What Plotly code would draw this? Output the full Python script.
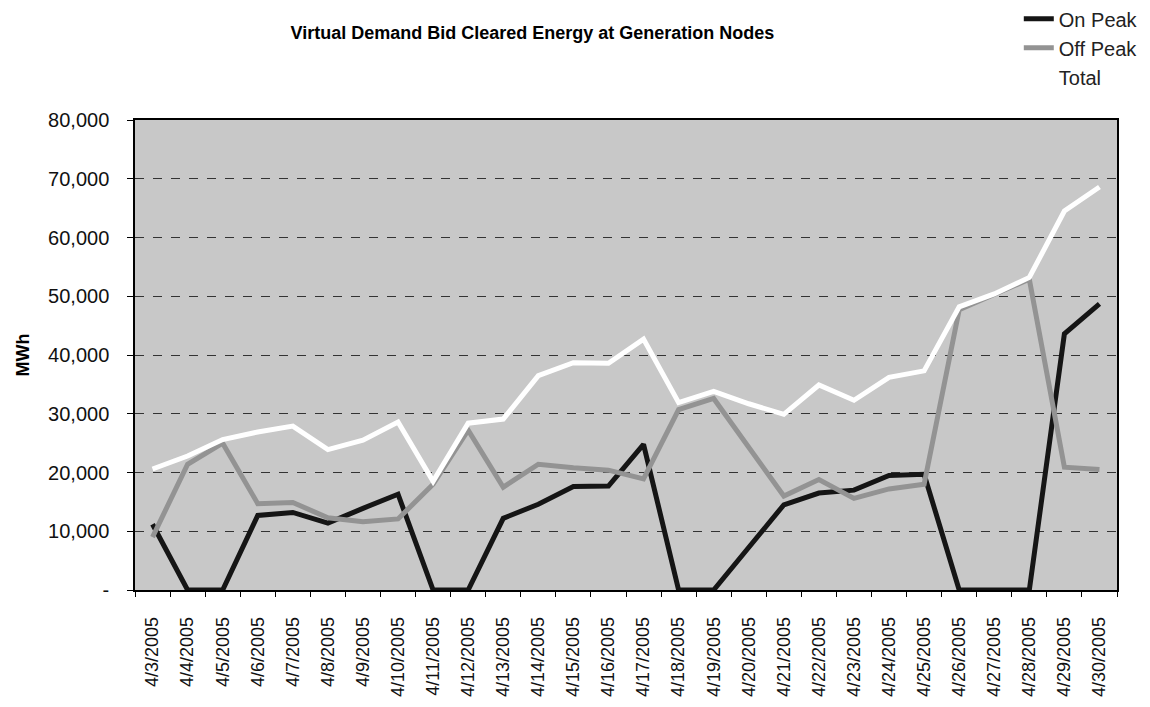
import plotly.graph_objects as go

dates = ["4/3/2005", "4/4/2005", "4/5/2005", "4/6/2005", "4/7/2005", "4/8/2005", "4/9/2005",
         "4/10/2005", "4/11/2005", "4/12/2005", "4/13/2005", "4/14/2005", "4/15/2005", "4/16/2005",
         "4/17/2005", "4/18/2005", "4/19/2005", "4/20/2005", "4/21/2005", "4/22/2005", "4/23/2005",
         "4/24/2005", "4/25/2005", "4/26/2005", "4/27/2005", "4/28/2005", "4/29/2005", "4/30/2005"]

on_peak = [11200, 0, 0, 12700, 13200, 11400, 13900, 16300, 0, 0, 12200, 14600, 17600, 17700,
           24800, 0, 0, 7200, 14500, 16500, 17000, 19500, 19700, 0, 0, 0, 43600, 48700]

off_peak = [9000, 21400, 25000, 14700, 14900, 12300, 11600, 12100, 18000, 27200, 17500, 21400,
            20800, 20400, 18900, 30700, 32600, 24300, 16000, 18800, 15600, 17200, 18000, 47700,
            50200, 52900, 20900, 20500]

total = [20600, 22800, 25600, 26900, 27900, 23900, 25500, 28600, 18500, 28400, 29100, 36500,
         38700, 38600, 42700, 31900, 33800, 31700, 29900, 34900, 32300, 36200, 37300, 48200,
         50400, 53200, 64500, 68600]

y_tickvals = [0, 10000, 20000, 30000, 40000, 50000, 60000, 70000, 80000]
y_ticktext = ["-", "10,000", "20,000", "30,000", "40,000", "50,000", "60,000", "70,000", "80,000"]

fig = go.Figure()
fig.add_trace(go.Scatter(x=dates, y=on_peak, mode="lines", name="On Peak",
                         line=dict(color="#151515", width=5)))
fig.add_trace(go.Scatter(x=dates, y=off_peak, mode="lines", name="Off Peak",
                         line=dict(color="#939393", width=5)))
fig.add_trace(go.Scatter(x=dates, y=total, mode="lines", name="Total",
                         line=dict(color="#ffffff", width=5)))

fig.update_layout(
    width=1150, height=707,
    paper_bgcolor="white",
    plot_bgcolor="#c8c8c8",
    margin=dict(l=127, r=41, t=112, b=125, autoexpand=False),
    font=dict(family="Liberation Sans, Arial, sans-serif", color="black"),
    title=dict(text="<b>Virtual Demand Bid Cleared Energy at Generation Nodes</b>",
               x=0.456, xanchor="center", y=0.965, yanchor="middle",
               font=dict(size=18, color="black")),
    legend=dict(x=0.9, xanchor="left", y=1.257, yanchor="top",
                bgcolor="rgba(0,0,0,0)", font=dict(size=20, color="#222"),
                itemwidth=30, tracegroupgap=0),
    showlegend=True,
)

fig.update_xaxes(
    type="category",
    range=[-0.5, len(dates) - 0.5],
    tickangle=-90,
    tickfont=dict(size=18, color="#111"),
    ticks="outside", ticklen=5, tickcolor="black",
    tickson="boundaries",
    ticklabelstandoff=18,
    showgrid=False,
    showline=True, linecolor="black", linewidth=1.5, mirror=True,
    automargin=False,
)
fig.update_yaxes(
    range=[0, 80000],
    tickvals=y_tickvals, ticktext=y_ticktext,
    tickfont=dict(size=20, color="#111"),
    ticks="outside", ticklen=6, tickcolor="black",
    ticklabelstandoff=14,
    showgrid=True, gridcolor="#333333", gridwidth=1, griddash="dash",
    zeroline=False,
    showline=True, linecolor="black", linewidth=1.5, mirror=True,
    title=dict(text="<b>MWh</b>", font=dict(size=18, color="black"), standoff=14),
    automargin=False,
)

fig.write_html("out.html")
